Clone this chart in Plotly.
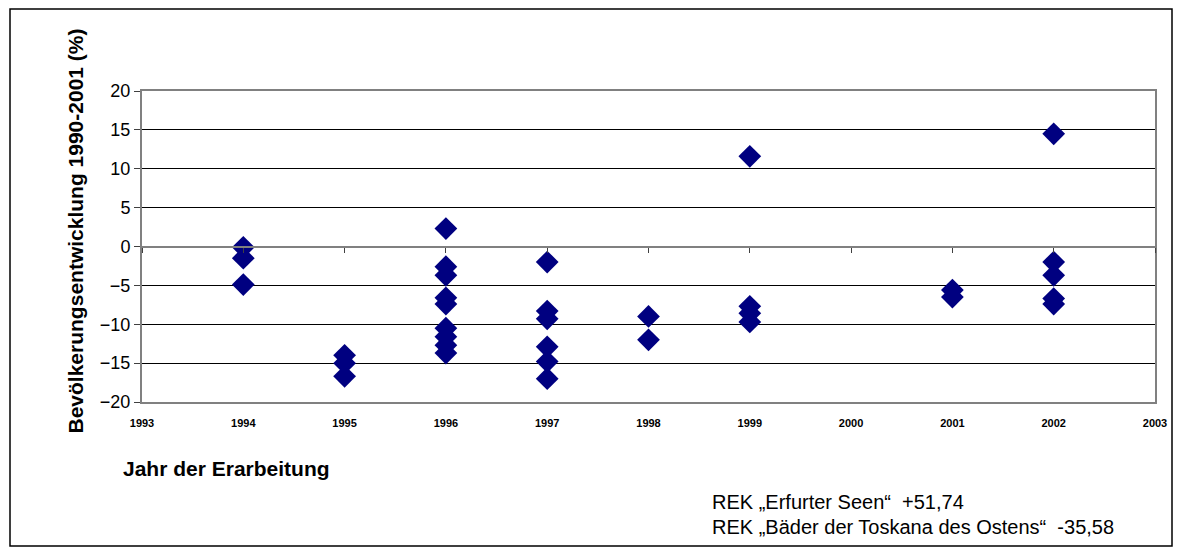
import plotly.graph_objects as go

# ---- data ----
years = [1994, 1995, 1996, 1997, 1998, 1999, 2001, 2002]
values = {
    1994: [-0.1, -1.5, -4.9],
    1995: [-14.0, -15.0, -16.7],
    1996: [2.3, -2.6, -3.7, -6.6, -7.4, -10.5, -11.6, -12.7, -13.7],
    1997: [-2.0, -8.3, -9.3, -12.9, -14.8, -17.0],
    1998: [-9.0, -12.0],
    1999: [11.6, -7.7, -8.6, -9.7],
    2001: [-5.6, -6.5],
    2002: [14.5, -2.0, -3.7, -6.7, -7.4],
}
x_ticks = list(range(1993, 2004))
y_ticks = [-20, -15, -10, -5, 0, 5, 10, 15, 20]

y_title = "Bevölkerungsentwicklung 1990-2001 (%)"
x_title = "Jahr der Erarbeitung"
note_lines = ["REK „Erfurter Seen“  +51,74", "REK „Bäder der Toskana des Ostens“  -35,58"]

xs, ys = [], []
for yr in years:
    for v in values[yr]:
        xs.append(yr)
        ys.append(v)

FONT = "Arial, Liberation Sans, sans-serif"
W, H = 1181, 553
L, R, T, B = 142, 1155, 91, 402

def px(xp):
    return (xp - L) / (R - L)

def py(yp):
    return 1 - (yp - T) / (B - T)

fig = go.Figure()
fig.add_trace(go.Scatter(
    x=xs, y=ys, mode="markers",
    marker=dict(symbol="diamond", size=17.5, color="#000080", line=dict(width=0)),
    showlegend=False, xaxis="x", yaxis="y",
))
# invisible trace to activate the crossing axis at y = 0
fig.add_trace(go.Scatter(x=[x_ticks[0]], y=[0], mode="markers",
                         marker=dict(opacity=0), showlegend=False,
                         xaxis="x2", yaxis="y", hoverinfo="skip"))

fig.update_layout(
    width=W, height=H,
    margin=dict(l=L, r=W - R, t=T, b=H - B),
    paper_bgcolor="white", plot_bgcolor="white",
    font=dict(family=FONT, color="black"),
    xaxis=dict(
        range=[x_ticks[0], x_ticks[-1]], tickvals=x_ticks,
        ticktext=[f"<b>{t}</b>" for t in x_ticks],
        tickfont=dict(size=11, family=FONT, color="black"),
        showgrid=False, zeroline=False,
        showline=True, linecolor="#808080", linewidth=2, mirror=True,
        ticks="outside", ticklen=10, tickcolor="rgba(0,0,0,0)",
    ),
    xaxis2=dict(
        range=[x_ticks[0], x_ticks[-1]], tickvals=x_ticks,
        overlaying="x", anchor="free", position=0.5,
        showticklabels=False, showgrid=False, zeroline=False,
        showline=True, linecolor="#808080", linewidth=2,
        ticks="outside", ticklen=5, tickcolor="#404040", tickwidth=1,
    ),
    yaxis=dict(
        range=[-20, 20], tickvals=y_ticks,
        tickfont=dict(size=18, family=FONT, color="black"),
        showgrid=True, gridcolor="black", gridwidth=1, zeroline=False,
        showline=True, linecolor="#808080", linewidth=2, mirror=True,
        ticks="outside", ticklen=6, tickcolor="#404040",
    ),
    annotations=[
        dict(text=f"<b>{y_title}</b>", xref="paper", yref="paper",
             x=px(75), y=py(436), xanchor="center", yanchor="bottom",
             textangle=-90, showarrow=False,
             font=dict(size=21, family=FONT, color="black")),
        dict(text=f"<b>{x_title}</b>", xref="paper", yref="paper",
             x=px(121), y=py(468), xanchor="left", yanchor="middle",
             showarrow=False, font=dict(size=21, family=FONT, color="black")),
        dict(text=note_lines[0], xref="paper", yref="paper",
             x=px(710), y=py(502), xanchor="left", yanchor="middle",
             showarrow=False, font=dict(size=20, family=FONT, color="black")),
        dict(text=note_lines[1], xref="paper", yref="paper",
             x=px(710), y=py(527), xanchor="left", yanchor="middle",
             showarrow=False, font=dict(size=20, family=FONT, color="black")),
    ],
    shapes=[
        dict(type="rect", xref="paper", yref="paper",
             x0=px(10), x1=px(1172), y0=py(546), y1=py(9),
             line=dict(color="black", width=1.5), layer="below"),
    ],
)

fig.write_html(
    "out.html",
    config={"displayModeBar": False},
    post_script="document.body.style.margin='0';document.body.style.overflow='hidden';",
)
